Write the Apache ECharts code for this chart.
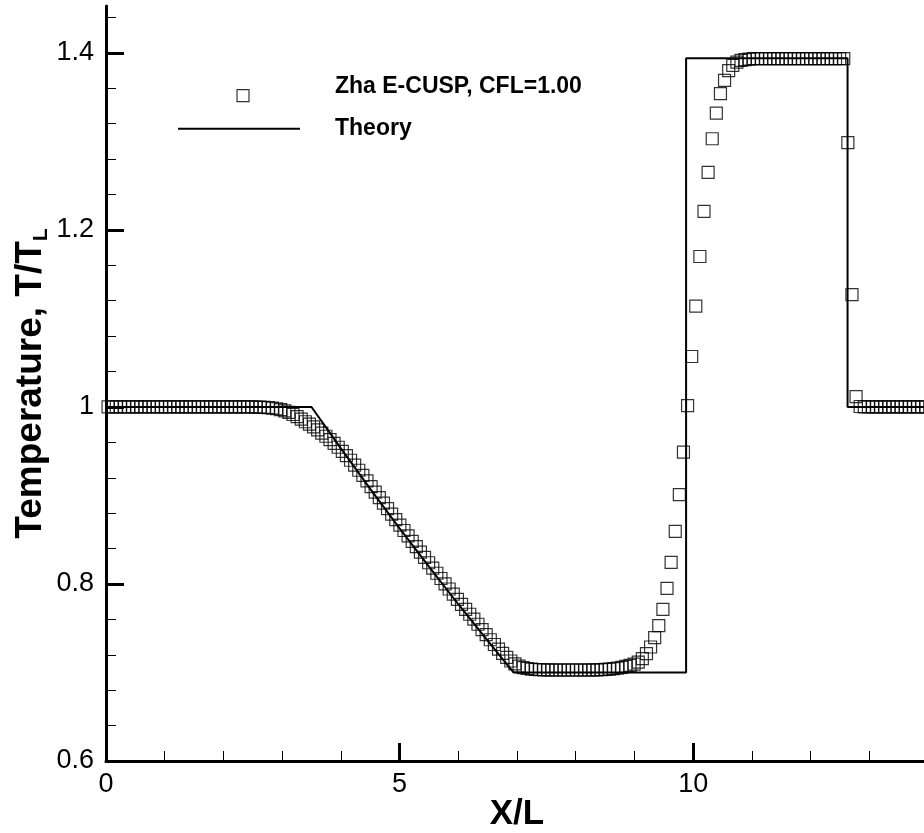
<!DOCTYPE html>
<html>
<head>
<meta charset="utf-8">
<script src="https://cdn.jsdelivr.net/npm/echarts@6/dist/echarts.min.js"></script>
<style>
  html, body { margin: 0; padding: 0; background: #fff; }
  #chart { width: 924px; height: 833px; }
</style>
</head>
<body>
<div id="chart"></div>
<script>
// cell centres of the numerical solution, X/L
const cellX = [
  0.035, 0.105, 0.175, 0.245, 0.315, 0.385, 0.455, 0.525, 0.595, 0.665,
  0.735, 0.805, 0.875, 0.945, 1.015, 1.085, 1.155, 1.225, 1.295, 1.365,
  1.435, 1.505, 1.575, 1.645, 1.715, 1.785, 1.855, 1.925, 1.995, 2.065,
  2.135, 2.205, 2.275, 2.345, 2.415, 2.485, 2.555, 2.625, 2.695, 2.765,
  2.835, 2.905, 2.975, 3.045, 3.115, 3.185, 3.255, 3.325, 3.395, 3.465,
  3.535, 3.605, 3.675, 3.745, 3.815, 3.885, 3.955, 4.025, 4.095, 4.165,
  4.235, 4.305, 4.375, 4.445, 4.515, 4.585, 4.655, 4.725, 4.795, 4.865,
  4.935, 5.005, 5.075, 5.145, 5.215, 5.285, 5.355, 5.425, 5.495, 5.565,
  5.635, 5.705, 5.775, 5.845, 5.915, 5.985, 6.055, 6.125, 6.195, 6.265,
  6.335, 6.405, 6.475, 6.545, 6.615, 6.685, 6.755, 6.825, 6.895, 6.965,
  7.035, 7.105, 7.175, 7.245, 7.315, 7.385, 7.455, 7.525, 7.595, 7.665,
  7.735, 7.805, 7.875, 7.945, 8.015, 8.085, 8.155, 8.225, 8.295, 8.365,
  8.435, 8.505, 8.575, 8.645, 8.715, 8.785, 8.855, 8.925, 8.995, 9.065,
  9.135, 9.205, 9.275, 9.345, 9.415, 9.485, 9.555, 9.625, 9.695, 9.765,
  9.835, 9.905, 9.975, 10.045, 10.115, 10.185, 10.255, 10.325, 10.395, 10.465,
  10.535, 10.605, 10.675, 10.745, 10.815, 10.885, 10.955, 11.025, 11.095, 11.165,
  11.235, 11.305, 11.375, 11.445, 11.515, 11.585, 11.655, 11.725, 11.795, 11.865,
  11.935, 12.005, 12.075, 12.145, 12.215, 12.285, 12.355, 12.425, 12.495, 12.565,
  12.635, 12.705, 12.775, 12.845, 12.915, 12.985, 13.055, 13.125, 13.195, 13.265,
  13.335, 13.405, 13.475, 13.545, 13.615, 13.685, 13.755, 13.825, 13.895, 13.965
];

// Zha E-CUSP temperature, T/T_L
const cellT = [
  1.0000, 1.0000, 1.0000, 1.0000, 1.0000, 1.0000, 1.0000, 1.0000, 1.0000, 1.0000,
  1.0000, 1.0000, 1.0000, 1.0000, 1.0000, 1.0000, 1.0000, 1.0000, 1.0000, 1.0000,
  1.0000, 1.0000, 1.0000, 1.0000, 1.0000, 1.0000, 1.0000, 1.0000, 1.0000, 1.0000,
  1.0000, 1.0000, 1.0000, 1.0000, 1.0000, 1.0000, 0.9999, 0.9998, 0.9996, 0.9992,
  0.9987, 0.9980, 0.9970, 0.9956, 0.9938, 0.9915, 0.9890, 0.9862, 0.9833, 0.9805,
  0.9774, 0.9740, 0.9705, 0.9669, 0.9631, 0.9589, 0.9545, 0.9499, 0.9450, 0.9398,
  0.9343, 0.9285, 0.9226, 0.9165, 0.9101, 0.9038, 0.8976, 0.8913, 0.8851, 0.8789,
  0.8727, 0.8665, 0.8604, 0.8543, 0.8482, 0.8421, 0.8361, 0.8300, 0.8240, 0.8180,
  0.8121, 0.8062, 0.8002, 0.7943, 0.7885, 0.7827, 0.7770, 0.7714, 0.7658, 0.7603,
  0.7545, 0.7485, 0.7427, 0.7370, 0.7316, 0.7264, 0.7215, 0.7170, 0.7130, 0.7097,
  0.7072, 0.7055, 0.7045, 0.7038, 0.7034, 0.7031, 0.7030, 0.7029, 0.7028, 0.7028,
  0.7028, 0.7028, 0.7028, 0.7028, 0.7028, 0.7028, 0.7028, 0.7028, 0.7029, 0.7030,
  0.7032, 0.7035, 0.7039, 0.7044, 0.7050, 0.7058, 0.7068, 0.7080, 0.7095, 0.7118,
  0.7156, 0.7213, 0.7288, 0.7393, 0.7530, 0.7714, 0.7950, 0.8245, 0.8595, 0.9010,
  0.9490, 1.0015, 1.0570, 1.1140, 1.1700, 1.2210, 1.2650, 1.3030, 1.3320, 1.3540,
  1.3690, 1.3800, 1.3860, 1.3895, 1.3915, 1.3925, 1.3930, 1.3935, 1.3935, 1.3935,
  1.3935, 1.3935, 1.3935, 1.3935, 1.3935, 1.3935, 1.3935, 1.3935, 1.3935, 1.3935,
  1.3935, 1.3935, 1.3935, 1.3935, 1.3935, 1.3935, 1.3935, 1.3935, 1.3935, 1.3935,
  1.2987, 1.1270, 1.0117, 1.0005, 1.0000, 1.0000, 1.0000, 1.0000, 1.0000, 1.0000,
  1.0000, 1.0000, 1.0000, 1.0000, 1.0000, 1.0000, 1.0000, 1.0000, 1.0000, 1.0000
];

// exact solution
const theoryX = [0, 3.5, 4.0, 4.5, 5.0, 5.5, 6.0, 6.5, 6.94, 9.88, 9.88, 12.63, 12.63, 14];
const theoryT = [1.0, 1.0, 0.9532, 0.9075, 0.8629, 0.8195, 0.7771, 0.7359, 0.70, 0.70, 1.394, 1.394, 1.0, 1.0];

const xTicks = [0, 5, 10];
const yTicks = [0.6, 0.8, 1.0, 1.2, 1.4];

const FONT = 'Liberation Sans, Arial, Helvetica, sans-serif';

const chart = echarts.init(document.getElementById('chart'), null, { renderer: 'canvas' });

const axisCommon = {
  axisLine: { lineStyle: { color: '#000', width: 3 } },
  axisTick: { inside: true, length: 18, lineStyle: { color: '#000', width: 3 } },
  minorTick: { show: true, splitNumber: 5, length: 10, lineStyle: { color: '#000', width: 1 } },
  splitLine: { show: false },
  minorSplitLine: { show: false },
  nameMoveOverlap: false
};

const option = {
  animation: false,
  backgroundColor: '#fff',
  grid: { left: 106, top: 6, width: 822, height: 755, containLabel: false, outerBoundsMode: 'none' },
  legend: {
    orient: 'vertical',
    left: 178,
    top: 71,
    padding: 0,
    itemGap: 15,
    itemWidth: 122,
    itemHeight: 30,
    symbolKeepAspect: true,
    textStyle: { fontFamily: FONT, fontSize: 23, fontWeight: 'bold', color: '#000', padding: [0, 0, 0, 30] },
    data: [
      {
        name: 'Zha E-CUSP, CFL=1.00',
        // square sits a little right of and below the text centre
        icon: 'path://M-8,0 L-8,0 M0,18 L12,18 L12,30 L0,30 Z',
        itemStyle: { color: 'rgba(0,0,0,0)', borderColor: '#000', borderWidth: 1.2 }
      },
      {
        name: 'Theory',
        icon: 'path://M0,0 L122,0 L122,2 L0,2 Z',
        itemStyle: { color: '#000', borderWidth: 0 }
      }
    ]
  },
  xAxis: {
    type: 'value',
    min: 0,
    max: 14,
    interval: 5,
    name: 'X/L',
    nameLocation: 'middle',
    nameGap: 36,
    nameTextStyle: { fontFamily: FONT, fontSize: 35, fontWeight: 'bold', color: '#000' },
    ...axisCommon,
    axisTick: { ...axisCommon.axisTick, customValues: xTicks },
    axisLabel: { customValues: xTicks, margin: 10, fontFamily: FONT, fontSize: 27, color: '#000' }
  },
  yAxis: {
    type: 'value',
    min: 0.6,
    max: 1.453,
    interval: 0.2,
    name: '{t|Temperature, T/T}{s|L}',
    nameLocation: 'middle',
    nameGap: 54,
    nameTextStyle: {
      color: '#000',
      rich: {
        t: { fontFamily: FONT, fontSize: 37, fontWeight: 'bold', lineHeight: 42, color: '#000' },
        s: { fontFamily: FONT, fontSize: 21, fontWeight: 'bold', lineHeight: 10, verticalAlign: 'bottom', color: '#000' }
      }
    },
    ...axisCommon,
    axisTick: { ...axisCommon.axisTick, customValues: yTicks },
    axisLabel: { customValues: yTicks, margin: 12, fontFamily: FONT, fontSize: 27, color: '#000' }
  },
  series: [
    {
      name: 'Zha E-CUSP, CFL=1.00',
      type: 'scatter',
      symbol: 'rect',
      symbolSize: 12,
      itemStyle: { color: 'rgba(0,0,0,0)', borderColor: '#000', borderWidth: 1.2 },
      data: cellX.map((x, i) => [x, cellT[i]]),
      z: 2
    },
    {
      name: 'Theory',
      type: 'line',
      symbol: 'none',
      lineStyle: { color: '#000', width: 2 },
      itemStyle: { color: '#000' },
      data: theoryX.map((x, i) => [x, theoryT[i]]),
      z: 3
    }
  ]
};

chart.setOption(option);
</script>
</body>
</html>
